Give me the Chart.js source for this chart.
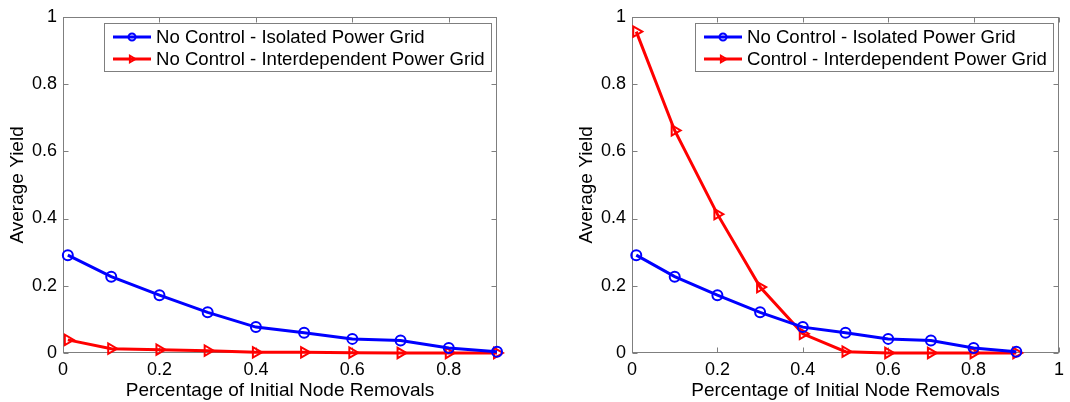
<!DOCTYPE html>
<html>
<head>
<meta charset="utf-8">
<script src="https://cdn.jsdelivr.net/npm/chart.js@4.4.1/dist/chart.umd.min.js"></script>
<style>
  html, body { margin: 0; padding: 0; background: #fff; }
  body { width: 1070px; height: 402px; position: relative; overflow: hidden; }
  .panel { position: absolute; top: 0; height: 402px; }
</style>
</head>
<body>
<div class="panel" style="left:0;width:505px"><canvas id="left"></canvas></div>
<div class="panel" style="left:569px;width:501px"><canvas id="right"></canvas></div>
<script>
// data
const removals = [0.01, 0.1, 0.2, 0.3, 0.4, 0.5, 0.6, 0.7, 0.8, 0.9];
const isolatedNoControl = [0.291, 0.227, 0.172, 0.121, 0.077, 0.060, 0.042, 0.037, 0.015, 0.004];
const interdepNoControl = [0.039, 0.013, 0.010, 0.007, 0.002, 0.002, 0.001, 0, 0, 0];
const interdepControl = [0.956, 0.662, 0.413, 0.196, 0.057, 0.004, 0, 0, 0, 0];
const yTicks = [0, 0.2, 0.4, 0.6, 0.8, 1];
const xTicksLeft = [0, 0.2, 0.4, 0.6, 0.8];
const xTicksRight = [0, 0.2, 0.4, 0.6, 0.8, 1];

const FONT = "'Liberation Sans', Arial, Helvetica, sans-serif";
const AXIS_GRAY = '#7f7f7f';
Chart.defaults.font.family = FONT;
Chart.defaults.color = '#000';

const toPoints = ys => ys.map((y, i) => ({ x: removals[i], y: y }));

// MATLAB-ish box with ticks pointing inwards
const boxPlugin = {
  id: 'box',
  beforeDatasetsDraw(chart) {
    const { ctx, chartArea: a, scales } = chart;
    const L = Math.round(a.left) + 0.5, R = Math.round(a.right) - 0.5;
    const T = Math.round(a.top) + 0.5, B = Math.round(a.bottom) - 0.5;
    ctx.save();
    ctx.strokeStyle = AXIS_GRAY;
    ctx.lineWidth = 1;
    ctx.beginPath();
    scales.y.ticks.forEach(t => {
      const y = Math.round(scales.y.getPixelForValue(t.value)) + 0.5;
      ctx.moveTo(L, y); ctx.lineTo(L + 5, y);
      ctx.moveTo(R, y); ctx.lineTo(R - 5, y);
    });
    scales.x.ticks.forEach(t => {
      const x = Math.round(scales.x.getPixelForValue(t.value)) + 0.5;
      ctx.moveTo(x, B); ctx.lineTo(x, B - 5);
      ctx.moveTo(x, T); ctx.lineTo(x, T + 5);
    });
    ctx.stroke();
    ctx.strokeRect(L, T, R - L, B - T);
    ctx.restore();
  }
};

function drawMarker(ctx, style, x, y, r) {
  ctx.beginPath();
  if (style === 'circle') {
    ctx.arc(x, y, r, 0, Math.PI * 2);
  } else {
    // triangle pointing right
    ctx.moveTo(x + r, y);
    ctx.lineTo(x - r * 0.6, y - r * 0.95);
    ctx.lineTo(x - r * 0.6, y + r * 0.95);
    ctx.closePath();
  }
  ctx.stroke();
}

// legend box in the upper right of the plot area
const legendPlugin = {
  id: 'boxLegend',
  afterDatasetsDraw(chart) {
    const { ctx, chartArea: a } = chart;
    const sets = chart.data.datasets;
    ctx.save();
    ctx.font = '18.6px ' + FONT;
    const textW = Math.max(...sets.map(d => ctx.measureText(d.label).width));
    const w = Math.round(52 + textW + 6), h = 48;
    const x0 = Math.round(a.right) - 6 - w, y0 = Math.round(a.top) + 6;
    ctx.fillStyle = '#fff';
    ctx.fillRect(x0, y0, w, h);
    ctx.strokeStyle = AXIS_GRAY;
    ctx.lineWidth = 1;
    ctx.strokeRect(x0 + 0.5, y0 + 0.5, w, h);
    sets.forEach((d, i) => {
      const cy = y0 + 14 + i * 22;
      ctx.strokeStyle = d.borderColor;
      ctx.lineWidth = 3;
      ctx.beginPath();
      ctx.moveTo(x0 + 9, cy); ctx.lineTo(x0 + 47, cy);
      ctx.stroke();
      ctx.lineWidth = 2;
      drawMarker(ctx, d.marker, x0 + 28, cy, 3.5);
      ctx.fillStyle = '#000';
      ctx.textBaseline = 'middle';
      ctx.fillText(d.label, x0 + 52, cy + 1);
    });
    ctx.restore();
  }
};

function series(label, values, color, marker) {
  const isCircle = marker === 'circle';
  return {
    label: label,
    data: toPoints(values),
    marker: marker,
    borderColor: color,
    backgroundColor: color,
    borderWidth: 3,
    pointStyle: isCircle ? 'circle' : 'triangle',
    pointRotation: isCircle ? 0 : 90,
    pointRadius: isCircle ? 5 : 6,
    pointBorderWidth: 2,
    pointBackgroundColor: 'rgba(255,255,255,0)',
    pointBorderColor: color,
    tension: 0,
    clip: false
  };
}

function makeChart(id, datasets, xMax, xTicks) {
  return new Chart(document.getElementById(id), {
    type: 'line',
    data: { datasets: datasets },
    options: {
      responsive: true,
      maintainAspectRatio: false,
      animation: false,
      events: [],
      layout: { padding: { left: 0, right: 8, top: 11, bottom: 0 } },
      plugins: { legend: { display: false }, tooltip: { enabled: false } },
      scales: {
        x: {
          type: 'linear',
          min: 0,
          max: xMax,
          afterBuildTicks: s => { s.ticks = xTicks.map(v => ({ value: v })); },
          afterFit: s => { s.height = 49; },
          grid: { display: false, drawTicks: false },
          border: { display: false },
          ticks: { font: { size: 18 }, padding: 6, maxRotation: 0, callback: v => String(v) },
          title: { display: true, text: 'Percentage of Initial Node Removals', font: { size: 19 }, padding: { top: 0, bottom: 0 } }
        },
        y: {
          min: 0,
          max: 1,
          afterBuildTicks: s => { s.ticks = yTicks.map(v => ({ value: v })); },
          afterFit: s => { s.width = 63; },
          grid: { display: false, drawTicks: false },
          border: { display: false },
          ticks: { font: { size: 18 }, padding: 6, callback: v => String(v) },
          title: { display: true, text: 'Average Yield', font: { size: 19 }, padding: { top: 6, bottom: 0 } }
        }
      }
    },
    plugins: [boxPlugin, legendPlugin]
  });
}

makeChart('left', [
  series('No Control - Isolated Power Grid', isolatedNoControl, '#0000ff', 'circle'),
  series('No Control - Interdependent Power Grid', interdepNoControl, '#ff0000', 'triangle')
], 0.9, xTicksLeft);

makeChart('right', [
  series('No Control - Isolated Power Grid', isolatedNoControl, '#0000ff', 'circle'),
  series('Control - Interdependent Power Grid', interdepControl, '#ff0000', 'triangle')
], 1, xTicksRight);
</script>
</body>
</html>
